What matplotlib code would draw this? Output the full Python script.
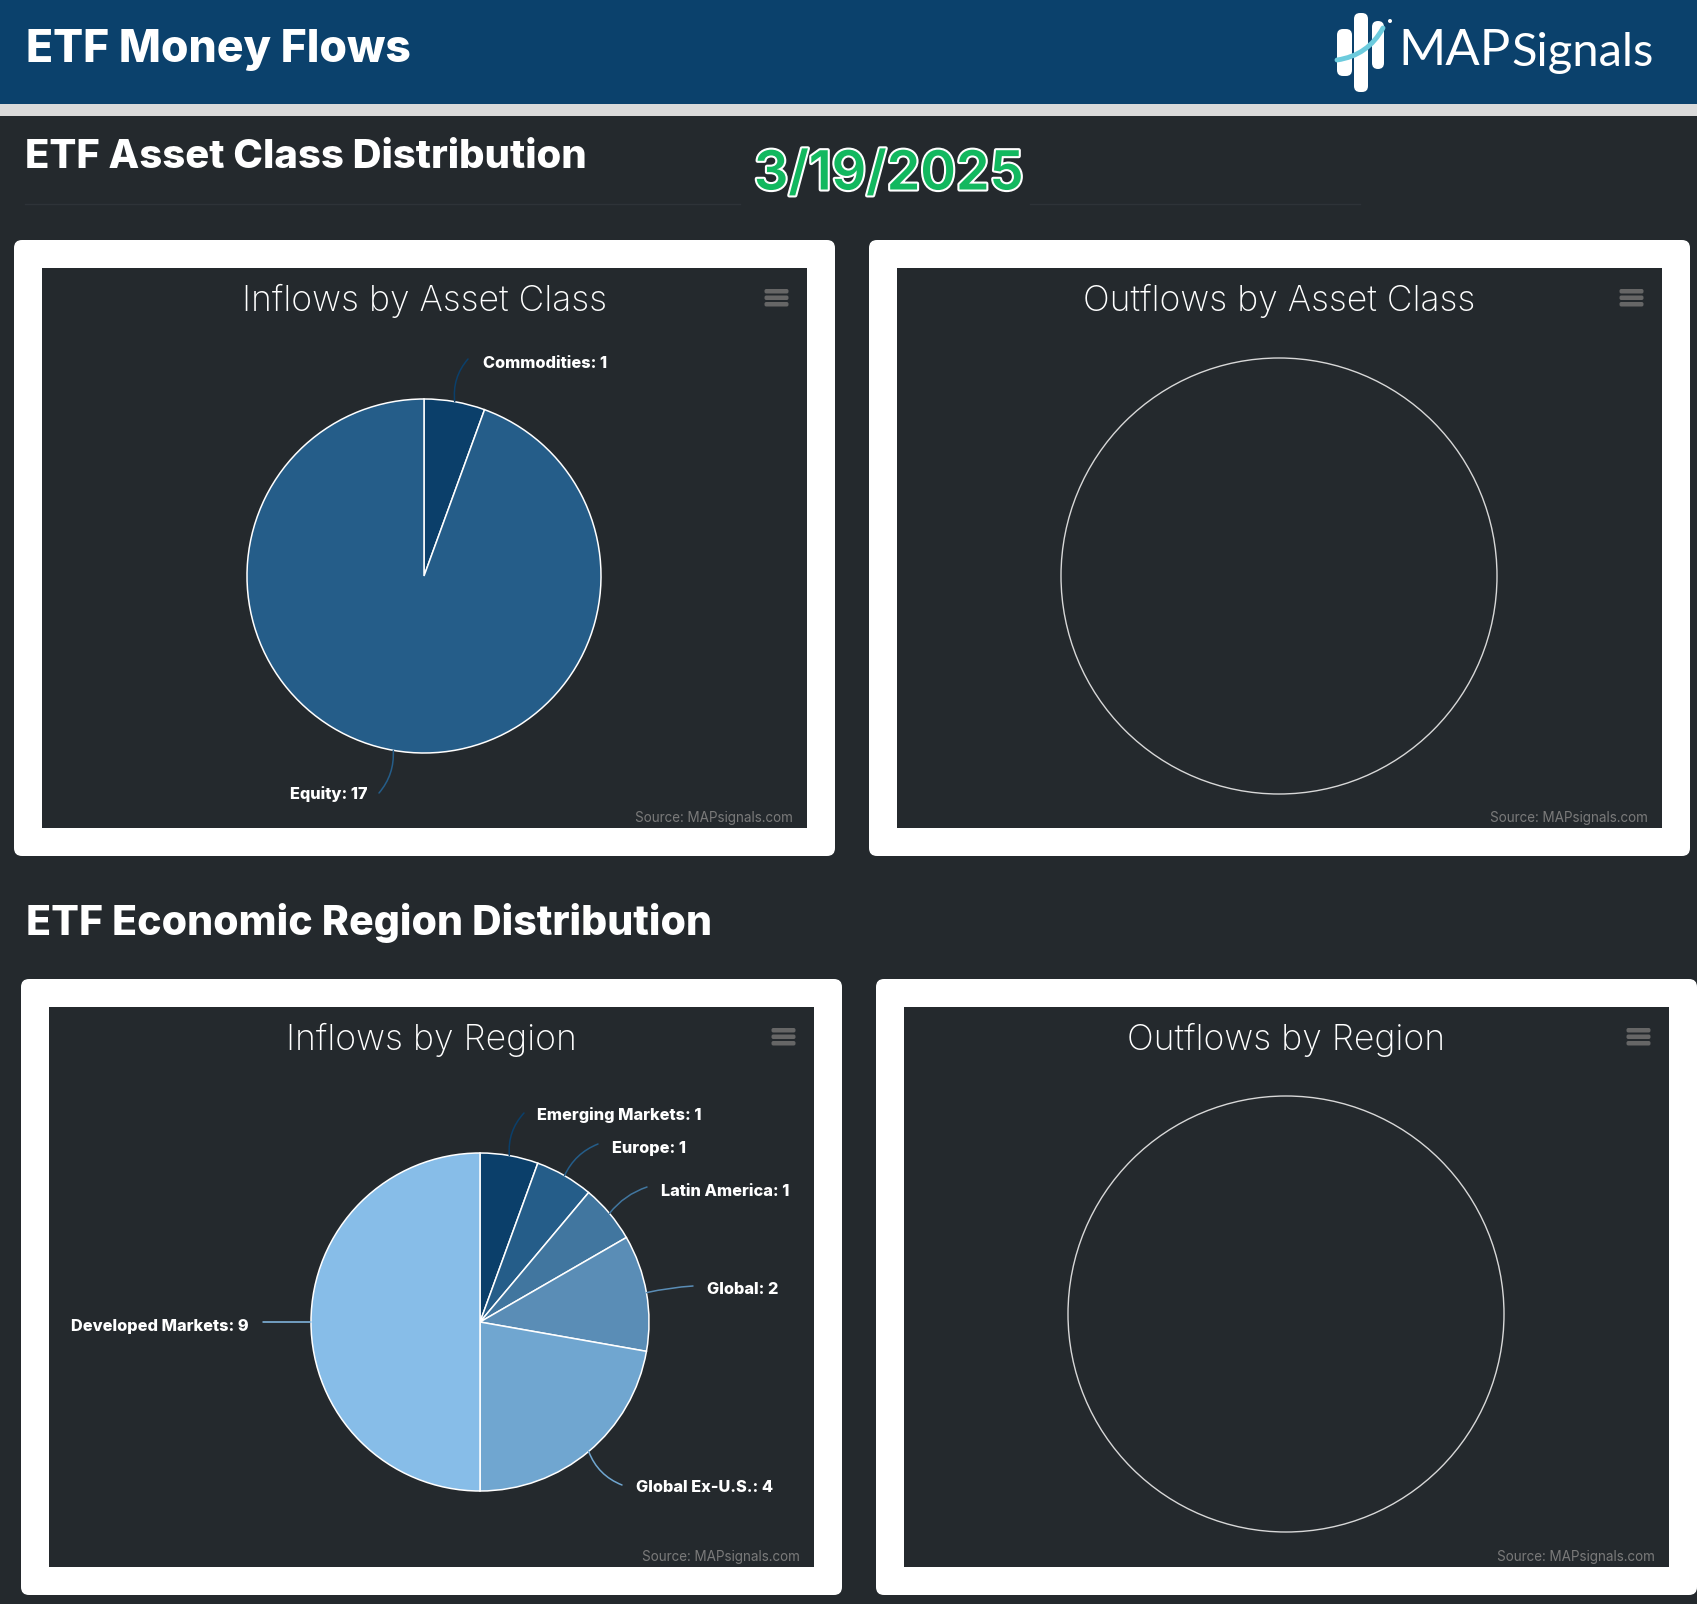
import matplotlib
matplotlib.use("Agg")
import numpy as np
import matplotlib.pyplot as plt
import matplotlib.patheffects as pe
from matplotlib.patches import Circle, FancyBboxPatch, Rectangle

W, H = 1697, 1604
BG = "#24292D"
NAVY = "#0B416C"

# data
asset_names = ["Commodities", "Equity"]
asset_inflows = [1, 17]
asset_colors = ["#0B3F6A", "#255D89"]

region_names = ["Emerging Markets", "Europe", "Latin America", "Global", "Global Ex-U.S.", "Developed Markets"]
region_inflows = [1, 1, 1, 2, 4, 9]
region_colors = ["#0B3F6A", "#255D89", "#41769F", "#5A8DB6", "#70A6D0", "#87BDE8"]

# label layout, pixels: text anchor, connector end, curve
asset_layout = [
    ((483, 363), "left", (468, 359), 0.22),
    ((367, 794), "right", (379, 793), 0.2),
]
region_layout = [
    ((537, 1115), "left", (524, 1113), 0.22),
    ((612, 1148), "left", (598, 1144), 0.2),
    ((661, 1191), "left", (647, 1187), 0.15),
    ((707, 1289), "left", (693, 1286), 0.04),
    ((636, 1488), "left", (622, 1485), -0.22),
    ((249, 1327), "right", (263, 1322), 0.0),
]

fig = plt.figure(figsize=(W / 100, H / 100), dpi=100, facecolor=BG)
plt.rcParams["font.family"] = ["Inter", "DejaVu Sans"]

page = fig.add_axes([0, 0, 1, 1], zorder=0)
page.set_xlim(0, W)
page.set_ylim(H, 0)
page.axis("off")


def px(size):
    return size * 0.72


def box(x0, y0, x1, y1, color, round_px=0, z=1):
    if round_px:
        p = FancyBboxPatch((x0 + round_px, y0 + round_px), x1 - x0 - 2 * round_px, y1 - y0 - 2 * round_px,
                           boxstyle=f"round,pad={round_px},rounding_size={round_px}",
                           fc=color, ec="none", zorder=z)
    else:
        p = Rectangle((x0, y0), x1 - x0, y1 - y0, fc=color, ec="none", zorder=z)
    page.add_patch(p)


def draw_header():
    box(0, 0, W, 104, NAVY)
    box(0, 104, W, 116, "#DADADA")
    page.text(26, 50, "ETF Money Flows", color="white", fontsize=px(44.5), fontweight=800, va="center")
    # logo
    box(1337, 29, 1352, 76, "white", 6, 2)
    box(1354, 13, 1368, 92, "white", 6, 2)
    box(1372, 21, 1384, 69, "white", 6, 2)
    page.annotate("", xy=(1383, 28), xytext=(1337, 60),
                  arrowprops=dict(arrowstyle="-", color="#6CCBDD", lw=3.5, shrinkA=0, shrinkB=0,
                                  connectionstyle="arc3,rad=0.25"), zorder=3)
    page.add_patch(Circle((1390, 21), 2, fc="white", ec="none", zorder=2))
    page.text(1398, 65, "MAP", color="white", fontsize=px(51), family="Lato", va="baseline")
    page.text(1511, 66, "Signals", color="white", fontsize=px(47), family="Lato", va="baseline")


def draw_headings():
    page.text(25, 157, "ETF Asset Class Distribution", color="white", fontsize=px(40), fontweight=800, va="center")
    page.text(26, 923, "ETF Economic Region Distribution", color="white", fontsize=px(41), fontweight=800, va="center")
    page.plot([25, 740], [204, 204], color="#2E3338", lw=1)
    page.plot([1030, 1360], [204, 204], color="#2E3338", lw=1)
    page.text(754, 175, "3/19/2025", color="#12B85F", fontsize=px(54), fontweight=600, va="center",
              path_effects=[pe.withStroke(linewidth=3, foreground="white")])


def draw_card(x0, y0, title):
    # outer white card, inner dark chart area
    box(x0, y0, x0 + 821, y0 + 616, "white", 8)
    ix0, iy0, ix1, iy1 = x0 + 28, y0 + 28, x0 + 792.5, y0 + 588
    box(ix0, iy0, ix1, iy1, BG, z=2)
    page.text((ix0 + ix1) / 2, iy0 + 33, title, color="white", fontsize=px(35.5), fontweight="light",
              ha="center", va="center", zorder=3)
    for dy in (0, 6.5, 13):
        box(ix1 - 42, iy0 + 21 + dy, ix1 - 18, iy0 + 25.5 + dy, "#666666", 1.8, 3)
    page.text(ix1 - 14, iy1 - 10, "Source: MAPsignals.com", color="#7A7A7A", fontsize=px(13.5),
              ha="right", va="center", zorder=3)


def draw_pie(cx, cy, r, names, values, colors, layout):
    ax = fig.add_axes([(cx - r) / W, 1 - (cy + r) / H, 2 * r / W, 2 * r / H], zorder=2)
    ax.patch.set_alpha(0)
    wedges, _ = ax.pie(values, colors=colors, startangle=90, counterclock=False, radius=1,
                       wedgeprops=dict(edgecolor="white", linewidth=1.1, clip_on=False))
    ax.set_xlim(-1, 1)
    ax.set_ylim(-1, 1)
    ax.axis("off")
    for w, name, val, col, (tpos, ha, end, rad) in zip(wedges, names, values, colors, layout):
        a = np.deg2rad((w.theta1 + w.theta2) / 2)
        ax.annotate("", xy=(np.cos(a), np.sin(a)), xytext=end, textcoords=page.transData,
                    annotation_clip=False,
                    arrowprops=dict(arrowstyle="-", color=col, lw=1.1, shrinkA=0, shrinkB=0,
                                    connectionstyle=f"arc3,rad={rad}"))
        page.text(tpos[0], tpos[1], f"{name}: {val}", color="white", fontsize=px(16.3), fontweight=800,
                  ha=ha, va="center", zorder=3)


def draw_empty(cx, cy, r):
    page.add_patch(Circle((cx, cy), r, fc="none", ec="#D8D8D8", lw=1.0, zorder=3))


draw_header()
draw_headings()

draw_card(14, 240, "Inflows by Asset Class")
draw_card(869, 240, "Outflows by Asset Class")
draw_card(21, 979, "Inflows by Region")
draw_card(876, 979, "Outflows by Region")

draw_pie(424, 576, 177, asset_names, asset_inflows, asset_colors, asset_layout)
draw_empty(1279, 576, 218)
draw_pie(480, 1322, 169, region_names, region_inflows, region_colors, region_layout)
draw_empty(1286, 1314, 218)

fig.savefig("out.png", dpi=100, facecolor=BG)
